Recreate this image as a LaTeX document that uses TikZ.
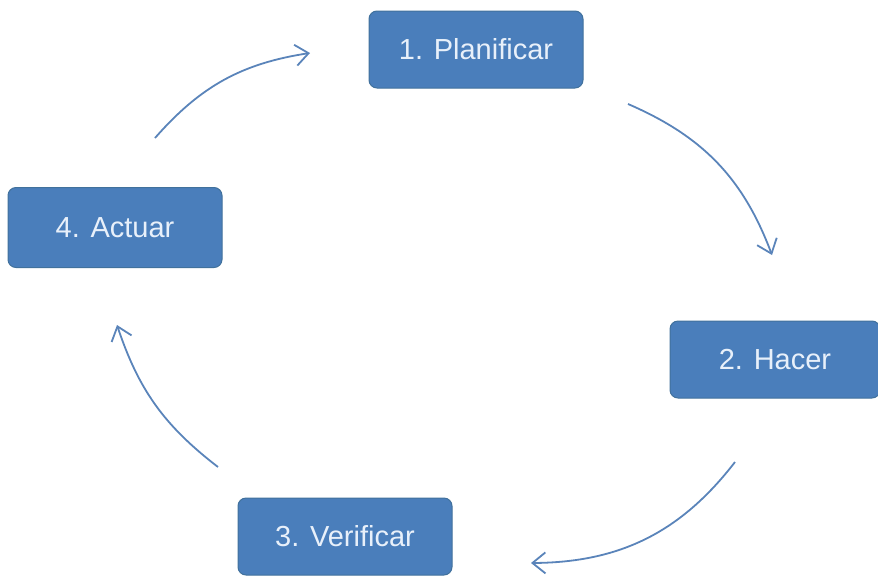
\documentclass[tikz,border=0pt]{standalone}
\usepackage{fontspec}
\setmainfont{Liberation Sans}
\usetikzlibrary{arrows.meta}
\definecolor{boxblue}{HTML}{4A7EBB}
\definecolor{boxedge}{HTML}{41719C}
\definecolor{boxtext}{HTML}{E8F0FA}
\definecolor{arrowblue}{HTML}{5A84BA}
\tikzset{
  stepbox/.style={draw=boxedge, line width=1pt, fill=boxblue, rounded corners=8pt,
    minimum width=214pt, minimum height=77pt, inner sep=0pt,
    text=boxtext, font=\fontsize{29}{34}\selectfont},
  cyclearrow/.style={draw=arrowblue, line width=1.8pt,
    -{Straight Barb[length=13pt,width=21pt,line width=1.8pt]}}
}
\begin{document}
\begin{tikzpicture}[x=1pt,y=-1pt]
\useasboundingbox (0,0) rectangle (878,579);
\node[stepbox] (n1) at (476,49.5) {1. Planificar};
\node[stepbox, minimum width=210pt] (n2) at (775,359.5) {2. Hacer};
\node[stepbox] (n3) at (345,536.5) {3. Verificar};
\node[stepbox, minimum height=80pt] (n4) at (115,227.5) {4. Actuar};
\coordinate (a1s) at (155,138);
\coordinate (a1e) at (310,53);
\coordinate (a2s) at (628,104);
\coordinate (a2e) at (772,255);
\coordinate (a3s) at (735,462);
\coordinate (a3e) at (531,563);
\coordinate (a4s) at (218,467);
\coordinate (a4e) at (117,325);
\draw[cyclearrow] (a1s) to[bend left=20] (a1e);
\draw[cyclearrow] (a2s) to[bend left=23] (a2e);
\draw[cyclearrow] (a3s) to[bend left=26] (a3e);
\draw[cyclearrow] (a4s) to[bend left=17] (a4e);
\end{tikzpicture}
\end{document}
